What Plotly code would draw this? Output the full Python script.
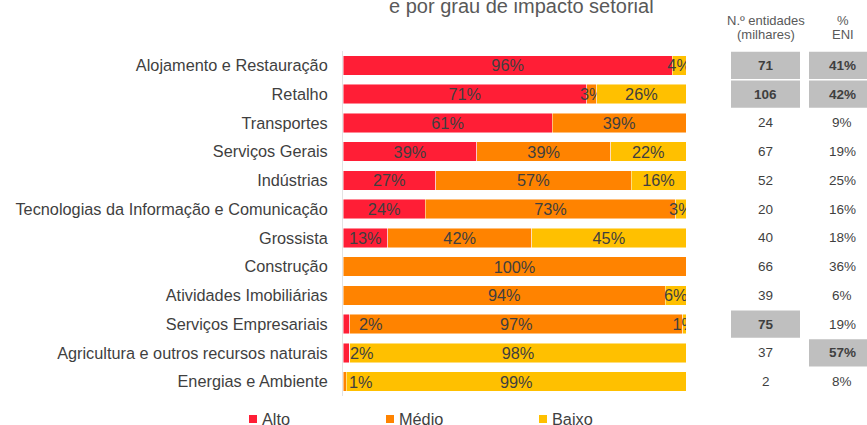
import plotly.graph_objects as go

# ---------------- data ----------------
setores = [
    "Alojamento e Restauração",
    "Retalho",
    "Transportes",
    "Serviços Gerais",
    "Indústrias",
    "Tecnologias da Informação e Comunicação",
    "Grossista",
    "Construção",
    "Atividades Imobiliárias",
    "Serviços Empresariais",
    "Agricultura e outros recursos naturais",
    "Energias e Ambiente",
]
alto = [96, 71, 61, 39, 27, 24, 13, 0, 0, 2, 2, 0]
medio = [0, 3, 39, 39, 57, 73, 42, 100, 94, 97, 0, 1]
baixo = [4, 26, 0, 22, 16, 3, 45, 0, 6, 1, 98, 99]
entidades = [71, 106, 24, 67, 52, 20, 40, 66, 39, 75, 37, 2]
eni = [41, 42, 9, 19, 25, 16, 18, 36, 6, 19, 57, 8]
destaque_entidades = ["Alojamento e Restauração", "Retalho", "Serviços Empresariais"]
destaque_eni = ["Alojamento e Restauração", "Retalho", "Agricultura e outros recursos naturais"]

titulo = "e por grau de impacto setorial"
cab_ent = ["N.º entidades", "(milhares)"]
cab_eni = ["%", "ENI"]
series = [("Alto", alto, "#FF1E36"), ("Médio", medio, "#FF8300"), ("Baixo", baixo, "#FFC000")]

# labels for thin edge segments are drawn beside the segment (pixel nudge)
nudged = {("Serviços Empresariais", "Alto"): 14,
          ("Agricultura e outros recursos naturais", "Alto"): 5,
          ("Energias e Ambiente", "Médio"): 4}

# ---------------- layout geometry ----------------
W, H = 867, 425
L, R, T, B = 343, 181, 51, 29
PW, PH = W - L - R, H - T - B
FONT = "Liberation Sans, Arial, sans-serif"
TXT = "#3F3F3F"
FS = 16.3


def px(x):
    return (x - L) / PW


def py(y):
    return (H - B - y) / PH


fig = go.Figure()
annotations = []
shapes = []

cum = [0] * len(setores)
for name, vals, color in series:
    texts = []
    for s, v, c in zip(setores, vals, cum):
        if v == 0:
            texts.append("")
        elif (s, name) in nudged:
            texts.append("")
            annotations.append(dict(x=c, y=s, xref="x", yref="y", text=f"{v}%",
                                    showarrow=False, xanchor="left", yanchor="middle",
                                    xshift=nudged[(s, name)],
                                    font=dict(family=FONT, size=FS, color=TXT)))
        else:
            texts.append(f"{v}%")
    fig.add_trace(go.Bar(
        y=setores, x=vals, name=name, orientation="h",
        marker=dict(color=color, line=dict(color="rgba(255,255,255,0.6)", width=0.8)),
        text=texts, textposition="inside", insidetextanchor="middle", textangle=0,
        textfont=dict(family=FONT, size=FS, color=TXT),
        width=0.68, showlegend=False, hoverinfo="skip",
    ))
    cum = [c + v for c, v in zip(cum, vals)]

# ---------------- table on the right ----------------
col1_x0, col1_x1, col1_c = 731, 800, 765.5
col2_x0, col2_x1, col2_c = 809, 875, 842
for i, s in enumerate(setores):
    hl1 = s in destaque_entidades
    hl2 = s in destaque_eni
    if hl1:
        shapes.append(dict(type="rect", xref="paper", yref="y", x0=px(col1_x0), x1=px(col1_x1),
                           y0=i - 0.47, y1=i + 0.47, fillcolor="#BFBFBF", line=dict(width=0),
                           layer="below"))
    if hl2:
        shapes.append(dict(type="rect", xref="paper", yref="y", x0=px(col2_x0), x1=px(col2_x1),
                           y0=i - 0.47, y1=i + 0.47, fillcolor="#BFBFBF", line=dict(width=0),
                           layer="below"))
    annotations.append(dict(x=px(col1_c), y=s, xref="paper", yref="y",
                            text=f"<b>{entidades[i]}</b>" if hl1 else str(entidades[i]),
                            showarrow=False, xanchor="center", yanchor="middle",
                            font=dict(family=FONT, size=13.5, color=TXT)))
    annotations.append(dict(x=px(col2_c), y=s, xref="paper", yref="y",
                            text=f"<b>{eni[i]}%</b>" if hl2 else f"{eni[i]}%",
                            showarrow=False, xanchor="center", yanchor="middle",
                            font=dict(family=FONT, size=13.5, color=TXT)))

for k, (t1, t2) in enumerate(zip(cab_ent, cab_eni)):
    ypix = 20 + 15 * k
    annotations.append(dict(x=px(766), y=py(ypix), xref="paper", yref="paper", text=t1,
                            showarrow=False, xanchor="center", yanchor="middle",
                            font=dict(family=FONT, size=13, color="#595959")))
    annotations.append(dict(x=px(843), y=py(ypix), xref="paper", yref="paper", text=t2,
                            showarrow=False, xanchor="center", yanchor="middle",
                            font=dict(family=FONT, size=13, color="#595959")))

# ---------------- title (partly cut off at the top) ----------------
annotations.append(dict(x=px(521), y=py(6), xref="paper", yref="paper", text=titulo,
                        showarrow=False, xanchor="center", yanchor="middle",
                        font=dict(family=FONT, size=20, color="#595959")))

# ---------------- legend (drawn manually) ----------------
leg_sq = [249, 386, 539]
for (name, _, color), x0 in zip(series, leg_sq):
    shapes.append(dict(type="rect", xref="paper", yref="paper", x0=px(x0), x1=px(x0 + 8),
                       y0=py(423), y1=py(415), fillcolor=color, line=dict(width=0)))
    annotations.append(dict(x=px(x0 + 11), y=py(418.5), xref="paper", yref="paper", text=name,
                            showarrow=False, xanchor="left", yanchor="middle",
                            font=dict(family=FONT, size=FS, color=TXT)))

fig.update_layout(
    barmode="stack",
    width=W, height=H,
    margin=dict(l=L, r=R, t=T, b=B, pad=0, autoexpand=False),
    plot_bgcolor="white", paper_bgcolor="white",
    uniformtext=dict(minsize=FS, mode="show"),
    annotations=annotations, shapes=shapes,
    xaxis=dict(range=[0, 100], visible=False, fixedrange=True, automargin=False),
    yaxis=dict(autorange="reversed", showgrid=False, zeroline=False, automargin=False,
               showline=True, linecolor="#E3E3E3", linewidth=1, ticks="",
               ticklabelstandoff=11,
               tickfont=dict(family=FONT, size=FS, color=TXT)),
    font=dict(family=FONT),
    showlegend=False,
)

fig.write_html("out.html", config={"displayModeBar": False},
               post_script="document.body.style.margin='0';document.body.style.overflow='hidden';")
